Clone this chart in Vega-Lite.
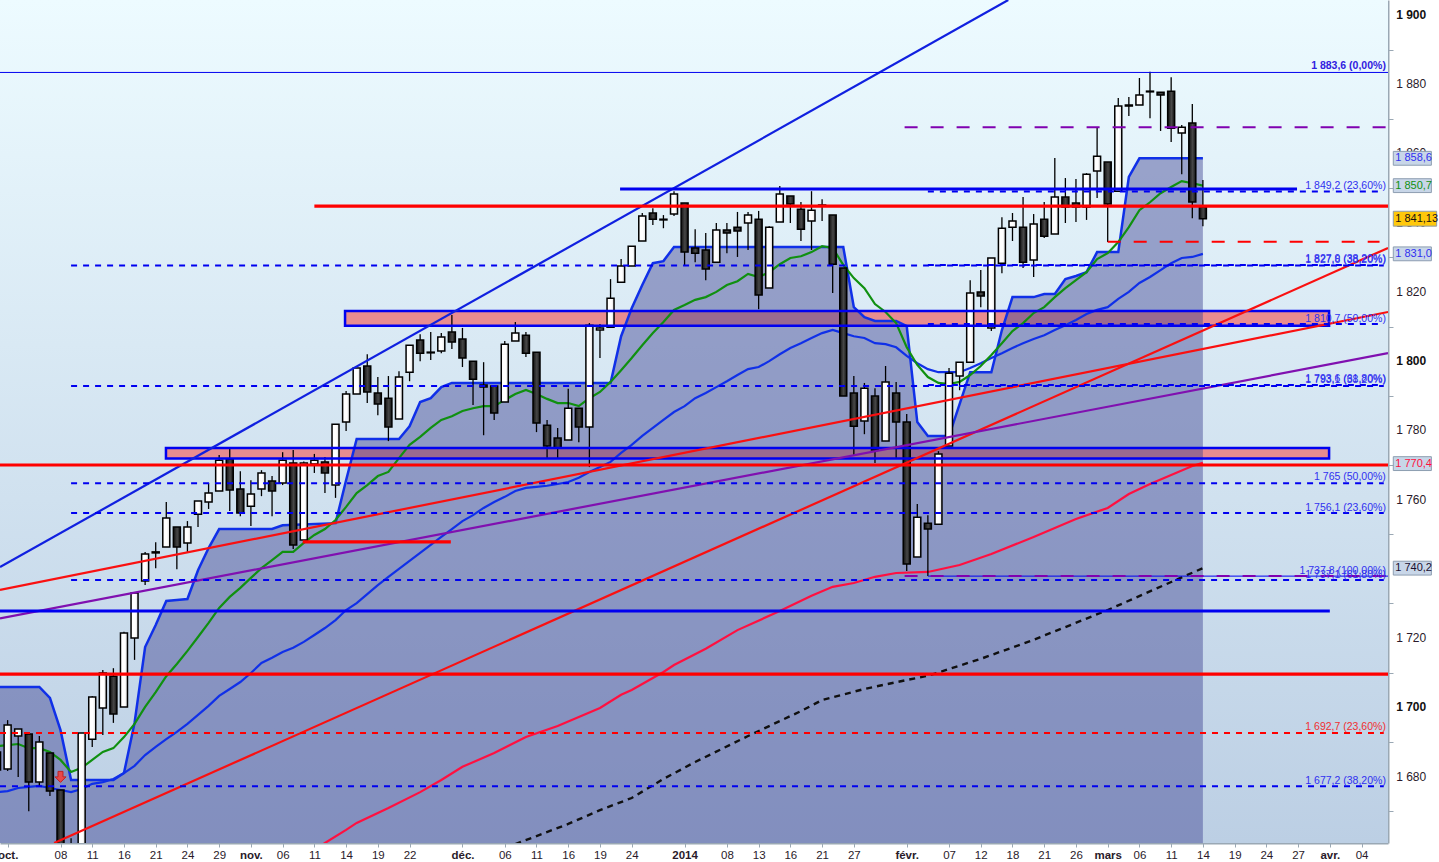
{"$schema":"https://vega.github.io/schema/vega-lite/v6.json","width":1388,"height":843,"autosize":{"type":"none"},"padding":{"left":0,"top":0,"right":51,"bottom":19},"background":"#ffffff","config":{"view":{"stroke":null}},
"datasets":{
"candles":[
{"i":-6,"o":1681.9,"c":1687.1,"p":1681.9,"p2":1687.1},{"i":-5,"o":1682.2,"c":1694.9,"p":1681.6,"p2":1696.3},{"i":-4,"o":1691.7,"c":1693.7,"p":1679.9,"p2":1693.7},{"i":-3,"o":1692.3,"c":1678.4,"p":1670,"p2":1692.3},{"i":-2,"o":1678.4,"c":1690,"p":1677,"p2":1691.7},{"i":-1,"o":1686.8,"c":1675.8,"p":1674.4,"p2":1686.8},{"i":0,"o":1676.1,"c":1650.1,"p":1645,"p2":1676.1},{"i":1,"o":1658.8,"c":1653,"p":1650,"p2":1662.2},{"i":2,"o":1650,"c":1692.6,"p":1650,"p2":1692.6},{"i":3,"o":1690.8,"c":1703,"p":1688.5,"p2":1703.3},{"i":4,"o":1699.8,"c":1709.9,"p":1692,"p2":1710.8},{"i":5,"o":1709,"c":1698.1,"p":1695.5,"p2":1711.3},{"i":6,"o":1700.1,"c":1721.5,"p":1700.1,"p2":1721.8},{"i":7,"o":1720,"c":1733,"p":1713.7,"p2":1733},{"i":8,"o":1736.5,"c":1744.3,"p":1735.3,"p2":1744.9},{"i":9,"o":1744.9,"c":1744.6,"p":1740.2,"p2":1747.7},{"i":10,"o":1746.3,"c":1754.7,"p":1746.3,"p2":1759.3},{"i":11,"o":1752.1,"c":1746.3,"p":1739.9,"p2":1752.1},{"i":12,"o":1747.5,"c":1752.1,"p":1744.9,"p2":1753.8},{"i":13,"o":1755.8,"c":1759.6,"p":1752.1,"p2":1759.6},{"i":14,"o":1759.3,"c":1761.9,"p":1757.3,"p2":1764.8},{"i":15,"o":1762.5,"c":1771.4,"p":1762.5,"p2":1772.9},{"i":16,"o":1771.7,"c":1762.8,"p":1756.7,"p2":1774.9},{"i":17,"o":1763.1,"c":1756.1,"p":1755.2,"p2":1768.2},{"i":18,"o":1758.1,"c":1761.6,"p":1752.4,"p2":1765.6},{"i":19,"o":1763.1,"c":1767.7,"p":1761,"p2":1768.5},{"i":20,"o":1765.4,"c":1762.5,"p":1755.2,"p2":1766.8},{"i":21,"o":1764.8,"c":1771.4,"p":1764.2,"p2":1773.7},{"i":22,"o":1770.6,"c":1746.9,"p":1745.7,"p2":1774.3},{"i":23,"o":1748.3,"c":1770.6,"p":1748.3,"p2":1771},{"i":24,"o":1770.3,"c":1771.4,"p":1767.7,"p2":1773.2},{"i":25,"o":1770.9,"c":1767.7,"p":1761.9,"p2":1772.3},{"i":26,"o":1764.2,"c":1781.8,"p":1760.5,"p2":1781.8},{"i":27,"o":1782.4,"c":1790.5,"p":1779.8,"p2":1791.4},{"i":28,"o":1790.5,"c":1798,"p":1790.5,"p2":1798},{"i":29,"o":1798.6,"c":1791.1,"p":1787.9,"p2":1802},{"i":30,"o":1790.8,"c":1787.6,"p":1784.4,"p2":1795.4},{"i":31,"o":1789.3,"c":1781,"p":1776.9,"p2":1795.7},{"i":32,"o":1783.3,"c":1795.4,"p":1783.3,"p2":1797.1},{"i":33,"o":1796.8,"c":1804.6,"p":1794.2,"p2":1804.6},{"i":34,"o":1806.1,"c":1802.3,"p":1800,"p2":1807.8},{"i":35,"o":1802.6,"c":1802.4,"p":1800.3,"p2":1808.4},{"i":36,"o":1802.9,"c":1807,"p":1802.3,"p2":1808.1},{"i":37,"o":1808.4,"c":1805.5,"p":1803.5,"p2":1813.3},{"i":38,"o":1806.4,"c":1800.9,"p":1798.3,"p2":1809.6},{"i":39,"o":1800,"c":1794.8,"p":1787.3,"p2":1800},{"i":40,"o":1793.1,"c":1792.5,"p":1778.6,"p2":1799.7},{"i":41,"o":1792.8,"c":1785,"p":1783,"p2":1792.8},{"i":42,"o":1788.2,"c":1804.9,"p":1788.2,"p2":1805.8},{"i":43,"o":1805.8,"c":1808.1,"p":1805.8,"p2":1811.3},{"i":44,"o":1807.5,"c":1802.3,"p":1801.2,"p2":1808.4},{"i":45,"o":1802.6,"c":1782.1,"p":1779.5,"p2":1802.6},{"i":46,"o":1781.5,"c":1775.5,"p":1772,"p2":1783},{"i":47,"o":1777.8,"c":1774.9,"p":1772,"p2":1780.7},{"i":48,"o":1777.2,"c":1786.4,"p":1777.2,"p2":1792},{"i":49,"o":1786.4,"c":1781,"p":1776.6,"p2":1786.4},{"i":50,"o":1781,"c":1810.4,"p":1769.4,"p2":1811},{"i":51,"o":1809,"c":1809.6,"p":1800.9,"p2":1810.7},{"i":52,"o":1809.8,"c":1818.2,"p":1809.8,"p2":1823.7},{"i":53,"o":1822.8,"c":1827.5,"p":1822.8,"p2":1829.5},{"i":54,"o":1827.5,"c":1833.2,"p":1827.5,"p2":1833.2},{"i":55,"o":1834.7,"c":1841.9,"p":1834.7,"p2":1842.8},{"i":56,"o":1842.8,"c":1841,"p":1839.3,"p2":1844.2},{"i":57,"o":1841,"c":1840.8,"p":1838.4,"p2":1842.2},{"i":58,"o":1842.5,"c":1848.3,"p":1841.9,"p2":1849.1},{"i":59,"o":1845.7,"c":1831.5,"p":1827.5,"p2":1845.7},{"i":60,"o":1832.7,"c":1831.2,"p":1828.6,"p2":1838.1},{"i":61,"o":1832.1,"c":1826.6,"p":1823.4,"p2":1837},{"i":62,"o":1828.6,"c":1837.9,"p":1828.6,"p2":1839.9},{"i":63,"o":1837.9,"c":1837,"p":1831.2,"p2":1839.9},{"i":64,"o":1838.7,"c":1837.6,"p":1830.1,"p2":1843.1},{"i":65,"o":1839.9,"c":1842.2,"p":1832.1,"p2":1843.1},{"i":66,"o":1841,"c":1819.1,"p":1815,"p2":1843.4},{"i":67,"o":1821.1,"c":1838.7,"p":1821.1,"p2":1839},{"i":68,"o":1840.2,"c":1848.3,"p":1840.2,"p2":1850.6},{"i":69,"o":1847.7,"c":1845.4,"p":1839.9,"p2":1847.7},{"i":70,"o":1843.9,"c":1838.1,"p":1834.7,"p2":1846},{"i":71,"o":1840.5,"c":1843.6,"p":1832.1,"p2":1849.1},{"i":72,"o":1844.8,"c":1845.1,"p":1840.5,"p2":1846.8},{"i":73,"o":1842.2,"c":1828,"p":1819.7,"p2":1842.2},{"i":74,"o":1826.9,"c":1789.9,"p":1789.9,"p2":1826.9},{"i":75,"o":1790.8,"c":1781.2,"p":1772.9,"p2":1795.7},{"i":76,"o":1782.7,"c":1792.2,"p":1778.9,"p2":1793.7},{"i":77,"o":1789.9,"c":1774.3,"p":1770.6,"p2":1792.2},{"i":78,"o":1776.9,"c":1794,"p":1776.9,"p2":1798.6},{"i":79,"o":1790.8,"c":1782.4,"p":1772,"p2":1794},{"i":80,"o":1782.4,"c":1741.4,"p":1739.4,"p2":1784.7},{"i":81,"o":1743.4,"c":1754.9,"p":1743.4,"p2":1758.7},{"i":82,"o":1753.2,"c":1751.5,"p":1737.9,"p2":1755.5},{"i":83,"o":1752.9,"c":1773.2,"p":1752.9,"p2":1774},{"i":84,"o":1775.5,"c":1796.5,"p":1775.5,"p2":1798},{"i":85,"o":1795.7,"c":1799.7,"p":1791.6,"p2":1799.7},{"i":86,"o":1799.7,"c":1819.7,"p":1799.7,"p2":1823.4},{"i":87,"o":1820,"c":1818.8,"p":1815.6,"p2":1826.3},{"i":88,"o":1809.6,"c":1829.8,"p":1808.7,"p2":1829.8},{"i":89,"o":1828.3,"c":1838.4,"p":1825.4,"p2":1841.6},{"i":90,"o":1838.7,"c":1840.5,"p":1834.7,"p2":1842.8},{"i":91,"o":1838.7,"c":1828.6,"p":1826.9,"p2":1847.4},{"i":92,"o":1829.2,"c":1839.6,"p":1824.3,"p2":1842.5},{"i":93,"o":1841,"c":1836.1,"p":1835.6,"p2":1846},{"i":94,"o":1836.7,"c":1847.4,"p":1836.7,"p2":1858.7},{"i":95,"o":1847.4,"c":1844.5,"p":1839.9,"p2":1852.9},{"i":96,"o":1845.7,"c":1844.5,"p":1840.2,"p2":1852.6},{"i":97,"o":1844.5,"c":1854,"p":1840.8,"p2":1854.3},{"i":98,"o":1854.9,"c":1859.2,"p":1847.1,"p2":1867.6},{"i":99,"o":1857.5,"c":1845.4,"p":1834.4,"p2":1857.5},{"i":100,"o":1849.1,"c":1873.7,"p":1849.1,"p2":1876},{"i":101,"o":1874,"c":1873.7,"p":1870.8,"p2":1876.3},{"i":102,"o":1874,"c":1876.9,"p":1874,"p2":1881.8},{"i":103,"o":1878,"c":1877.8,"p":1870.2,"p2":1883.6},{"i":104,"o":1877.7,"c":1876.9,"p":1866.5,"p2":1877.7},{"i":105,"o":1878,"c":1867.3,"p":1863.3,"p2":1882},{"i":106,"o":1865.9,"c":1867.6,"p":1854,"p2":1868.2},{"i":107,"o":1868.8,"c":1846,"p":1841.3,"p2":1874.3},{"i":108,"o":1844.5,"c":1841.13,"p":1839,"p2":1852.3}],
"env":[{"i":-6,"p":1705.9},{"i":-2,"p":1705.9},{"i":-1,"p":1702.7},{"i":0,"p":1693.4},{"i":1,"p":1679},{"i":5,"p":1679},{"i":6,"p":1681},{"i":7,"p":1695.5},{"i":8,"p":1717.4},{"i":9,"p":1723.8},{"i":10,"p":1730.7},{"i":11,"p":1731},{"i":12,"p":1731.3},{"i":13,"p":1739.6},{"i":14,"p":1746},{"i":15,"p":1751.5},{"i":20,"p":1751.5},{"i":21,"p":1752.6},{"i":26,"p":1753.2},{"i":27,"p":1765.6},{"i":28,"p":1777.5},{"i":32,"p":1777.5},{"i":33,"p":1781.2},{"i":34,"p":1788.2},{"i":35,"p":1789.3},{"i":36,"p":1792.5},{"i":37,"p":1793.7},{"i":52,"p":1793.7},{"i":53,"p":1807.2},{"i":54,"p":1815.3},{"i":55,"p":1822},{"i":56,"p":1828.3},{"i":57,"p":1828.9},{"i":58,"p":1833},{"i":74,"p":1833},{"i":75,"p":1815.6},{"i":76,"p":1812.7},{"i":77,"p":1811.6},{"i":79,"p":1811.6},{"i":80,"p":1810.1},{"i":81,"p":1782.4},{"i":82,"p":1778.4},{"i":84,"p":1778.4},{"i":85,"p":1787.6},{"i":86,"p":1796.8},{"i":88,"p":1796.8},{"i":89,"p":1809},{"i":90,"p":1818.5},{"i":92,"p":1818.5},{"i":93,"p":1819.4},{"i":94,"p":1819.4},{"i":95,"p":1823.7},{"i":96,"p":1824.6},{"i":97,"p":1825.7},{"i":98,"p":1831.5},{"i":100,"p":1831.5},{"i":101,"p":1853.2},{"i":102,"p":1858.6},{"i":108,"p":1858.6}],
"green":[{"i":-6,"p":1688.8},{"i":-5,"p":1689.1},{"i":-4,"p":1689.4},{"i":-3,"p":1688.2},{"i":-2,"p":1688.2},{"i":-1,"p":1687.1},{"i":0,"p":1684.8},{"i":1,"p":1681.3},{"i":2,"p":1682.5},{"i":3,"p":1684.8},{"i":4,"p":1687.1},{"i":5,"p":1688.2},{"i":6,"p":1691.4},{"i":7,"p":1695.2},{"i":8,"p":1700.1},{"i":9,"p":1704.4},{"i":10,"p":1709},{"i":11,"p":1712.5},{"i":12,"p":1716.3},{"i":13,"p":1720.3},{"i":14,"p":1724.4},{"i":15,"p":1728.7},{"i":16,"p":1731.9},{"i":17,"p":1734.5},{"i":18,"p":1737.4},{"i":19,"p":1740.2},{"i":20,"p":1742.5},{"i":21,"p":1744.9},{"i":22,"p":1744.9},{"i":23,"p":1747.5},{"i":24,"p":1749.8},{"i":25,"p":1751.5},{"i":26,"p":1754.1},{"i":27,"p":1757.9},{"i":28,"p":1761.9},{"i":29,"p":1764.2},{"i":30,"p":1766.8},{"i":31,"p":1768},{"i":32,"p":1772},{"i":33,"p":1775.8},{"i":34,"p":1778.1},{"i":35,"p":1780.7},{"i":36,"p":1783},{"i":37,"p":1784.1},{"i":38,"p":1785.6},{"i":39,"p":1786.4},{"i":40,"p":1787},{"i":41,"p":1787},{"i":42,"p":1788.8},{"i":43,"p":1790.5},{"i":44,"p":1791.7},{"i":45,"p":1790.5},{"i":46,"p":1789.1},{"i":47,"p":1787.9},{"i":48,"p":1787.9},{"i":49,"p":1787},{"i":50,"p":1789.3},{"i":51,"p":1791.1},{"i":52,"p":1794},{"i":53,"p":1797.4},{"i":54,"p":1800.9},{"i":55,"p":1804.6},{"i":56,"p":1808.1},{"i":57,"p":1811.3},{"i":58,"p":1814.8},{"i":59,"p":1816.2},{"i":60,"p":1817.7},{"i":61,"p":1818.5},{"i":62,"p":1820},{"i":63,"p":1822},{"i":64,"p":1823.1},{"i":65,"p":1825.2},{"i":66,"p":1824.3},{"i":67,"p":1825.7},{"i":68,"p":1828},{"i":69,"p":1829.8},{"i":70,"p":1830.3},{"i":71,"p":1831.5},{"i":72,"p":1833.2},{"i":73,"p":1832.7},{"i":74,"p":1827.8},{"i":75,"p":1824},{"i":76,"p":1821.1},{"i":77,"p":1816.5},{"i":78,"p":1814.2},{"i":79,"p":1811},{"i":80,"p":1804},{"i":81,"p":1798.9},{"i":82,"p":1795.4},{"i":83,"p":1793.7},{"i":84,"p":1793.4},{"i":85,"p":1794},{"i":86,"p":1796},{"i":87,"p":1798.6},{"i":88,"p":1801.8},{"i":89,"p":1805.2},{"i":90,"p":1808.7},{"i":91,"p":1811},{"i":92,"p":1813.9},{"i":93,"p":1815.6},{"i":94,"p":1818.5},{"i":95,"p":1821.1},{"i":96,"p":1823.4},{"i":97,"p":1825.7},{"i":98,"p":1829.5},{"i":99,"p":1831.2},{"i":100,"p":1834.4},{"i":101,"p":1838.7},{"i":102,"p":1843.6},{"i":103,"p":1845.9},{"i":104,"p":1848.5},{"i":105,"p":1850.3},{"i":106,"p":1852},{"i":107,"p":1851.4},{"i":108,"p":1850.7}],
"blue":[{"i":-6,"p":1675.5},{"i":-5,"p":1675.8},{"i":-4,"p":1676.7},{"i":-3,"p":1677},{"i":-2,"p":1677.3},{"i":-1,"p":1676.7},{"i":0,"p":1676.1},{"i":1,"p":1675.5},{"i":2,"p":1676.4},{"i":3,"p":1677.9},{"i":4,"p":1678.4},{"i":5,"p":1679.3},{"i":6,"p":1681},{"i":7,"p":1683.1},{"i":8,"p":1686.2},{"i":9,"p":1688.6},{"i":10,"p":1690.8},{"i":11,"p":1692.9},{"i":12,"p":1695.2},{"i":13,"p":1697.8},{"i":14,"p":1700.4},{"i":15,"p":1703.3},{"i":16,"p":1705.3},{"i":17,"p":1707.3},{"i":18,"p":1709.9},{"i":19,"p":1712.8},{"i":20,"p":1714.3},{"i":21,"p":1716},{"i":22,"p":1717.2},{"i":23,"p":1718.9},{"i":24,"p":1720.9},{"i":25,"p":1722.9},{"i":26,"p":1725.2},{"i":27,"p":1728.1},{"i":28,"p":1730.1},{"i":29,"p":1732.7},{"i":30,"p":1735.3},{"i":31,"p":1737.7},{"i":32,"p":1740},{"i":33,"p":1742.3},{"i":34,"p":1744.6},{"i":35,"p":1746.9},{"i":36,"p":1749.2},{"i":37,"p":1751.5},{"i":38,"p":1753.8},{"i":39,"p":1755.5},{"i":40,"p":1757.6},{"i":41,"p":1759.3},{"i":42,"p":1760.8},{"i":43,"p":1762.5},{"i":44,"p":1763.4},{"i":45,"p":1763.7},{"i":46,"p":1764},{"i":47,"p":1764.5},{"i":48,"p":1765.1},{"i":49,"p":1766.3},{"i":50,"p":1768},{"i":51,"p":1769.4},{"i":52,"p":1770.9},{"i":53,"p":1773.5},{"i":54,"p":1775.8},{"i":55,"p":1778.4},{"i":56,"p":1780.7},{"i":57,"p":1783},{"i":58,"p":1785.3},{"i":59,"p":1787},{"i":60,"p":1789.3},{"i":61,"p":1790.8},{"i":62,"p":1792.5},{"i":63,"p":1794.2},{"i":64,"p":1796},{"i":65,"p":1797.7},{"i":66,"p":1798.3},{"i":67,"p":1800},{"i":68,"p":1802},{"i":69,"p":1803.8},{"i":70,"p":1805.2},{"i":71,"p":1806.7},{"i":72,"p":1808.1},{"i":73,"p":1809},{"i":74,"p":1808.1},{"i":75,"p":1807.2},{"i":76,"p":1806.7},{"i":77,"p":1805.2},{"i":78,"p":1804.9},{"i":79,"p":1804},{"i":80,"p":1801.5},{"i":81,"p":1799.4},{"i":82,"p":1797.7},{"i":83,"p":1796.8},{"i":84,"p":1796.8},{"i":85,"p":1796.8},{"i":86,"p":1798},{"i":87,"p":1799.4},{"i":88,"p":1800.9},{"i":89,"p":1802.3},{"i":90,"p":1803.8},{"i":91,"p":1805.2},{"i":92,"p":1806.4},{"i":93,"p":1807.5},{"i":94,"p":1809},{"i":95,"p":1810.4},{"i":96,"p":1811.9},{"i":97,"p":1813.6},{"i":98,"p":1814.8},{"i":99,"p":1815.6},{"i":100,"p":1818},{"i":101,"p":1820},{"i":102,"p":1822.6},{"i":103,"p":1824.3},{"i":104,"p":1826.3},{"i":105,"p":1828.3},{"i":106,"p":1829.8},{"i":107,"p":1830.1},{"i":108,"p":1831}],
"ma200":[{"i":24,"p":1658.8},{"i":25,"p":1660.8},{"i":27,"p":1664.6},{"i":28,"p":1666.6},{"i":31,"p":1670.9},{"i":34,"p":1675.5},{"i":36,"p":1679},{"i":38,"p":1682.8},{"i":41,"p":1686.8},{"i":44,"p":1691.4},{"i":47,"p":1694.6},{"i":49,"p":1697.2},{"i":51,"p":1699.8},{"i":53,"p":1703.6},{"i":54,"p":1705},{"i":57,"p":1710.2},{"i":58,"p":1712.2},{"i":61,"p":1716.9},{"i":64,"p":1722.3},{"i":68,"p":1727.8},{"i":71,"p":1732.2},{"i":73,"p":1734.8},{"i":75,"p":1735.9},{"i":77,"p":1737.7},{"i":79,"p":1738.8},{"i":82,"p":1739.1},{"i":85,"p":1741.1},{"i":88,"p":1744.3},{"i":92,"p":1749.2},{"i":96,"p":1754.4},{"i":99,"p":1757.6},{"i":101,"p":1761.6},{"i":103,"p":1764.5},{"i":107,"p":1769.7},{"i":108,"p":1770.6}],
"ma300":[{"i":43,"p":1660.5},{"i":45,"p":1662.8},{"i":48,"p":1666.3},{"i":51,"p":1670.3},{"i":54,"p":1673.8},{"i":57,"p":1679.3},{"i":60,"p":1684.2},{"i":65,"p":1691.7},{"i":70,"p":1698.9},{"i":72,"p":1702.1},{"i":76,"p":1705.3},{"i":80,"p":1707.9},{"i":82,"p":1709.1},{"i":87,"p":1714},{"i":92,"p":1719.5},{"i":99,"p":1728.1},{"i":105,"p":1736.2},{"i":108,"p":1740.2}],
"zones":[{"i":26.9,"i2":119.93,"p":1814.5,"p2":1810.2},{"i":9.97,"i2":119.93,"p":1774.9,"p2":1771.9}],
"boxes":[{"i":126,"i2":129.6,"p":1860.6,"p2":1856.6,"t":"1 858,6","k":"a"},{"i":126,"i2":129.6,"p":1852.7,"p2":1848.7,"t":"1 850,7","k":"b"},{"i":126,"i2":130.1,"p":1843.3,"p2":1839,"t":"1 841,13","k":"c"},{"i":126,"i2":129.6,"p":1833,"p2":1829,"t":"1 831,0","k":"a"},{"i":126,"i2":129.6,"p":1772.4,"p2":1768.4,"t":"1 770,4","k":"d"},{"i":126,"i2":129.6,"p":1742.2,"p2":1738.2,"t":"1 740,2","k":"e"}],
"boxtext":[{"i":126,"p":1858.6,"t":"1 858,6","k":"a"},{"i":126,"p":1850.7,"t":"1 850,7","k":"b"},{"i":126,"p":1841.13,"t":"1 841,13","k":"c"},{"i":126,"p":1831,"t":"1 831,0","k":"a"},{"i":126,"p":1770.4,"t":"1 770,4","k":"d"},{"i":126,"p":1740.2,"t":"1 740,2","k":"e"}]
},
"encoding":{
"x":{"field":"i","type":"quantitative","title":null,"scale":{"domain":[-5.72,125.5],"nice":false,"zero":false,"padding":0},"axis":{"orient":"bottom","grid":false,"title":null,"values":[-5,0,3,6,9,12,15,18,21,24,27,30,33,38,42,45,48,51,54,59,63,66,69,72,75,80,84,87,90,93,96,99,102,105,108,111,114,117,120,123],"labelExpr":"['oct.','08','11','16','21','24','29','nov.','06','11','14','19','22','déc.','06','11','16','19','24','2014','08','13','16','21','27','févr.','07','12','18','21','26','mars','06','11','14','19','24','27','avr.','04'][indexof([-5,0,3,6,9,12,15,18,21,24,27,30,33,38,42,45,48,51,54,59,63,66,69,72,75,80,84,87,90,93,96,99,102,105,108,111,114,117,120,123],datum.value)]","labelFontWeight":{"condition":{"test":"indexof([-5,18,38,59,80,99,120],datum.value)>=0","value":"bold"},"value":"normal"},"labelFont":"Liberation Sans","labelFontSize":11.5,"labelColor":"#2a1a2a","labelOverlap":false,"labelBound":false,"labelFlush":false,"labelPadding":2,"tickSize":4,"tickColor":"#9aa8b4","domainColor":"#9aa8b4","domainWidth":2,"zindex":0}},
"y":{"field":"p","type":"quantitative","title":null,"scale":{"domain":[1660.8,1904.33],"nice":false,"zero":false,"padding":0},"axis":{"orient":"right","grid":false,"title":null,"values":[1670,1680,1690,1700,1710,1720,1730,1740,1750,1760,1770,1780,1790,1800,1810,1820,1830,1840,1850,1860,1870,1880,1890,1900],"labels":false,"tickSize":5,"tickColor":"#9aa8b4","domainColor":"#9aa8b4","domainWidth":2,"zindex":0}}
},
"layer":[
{"data":{"values":[{"i":-5.72,"i2":125.5,"p":1904.33,"p2":1660.8}]},"mark":{"type":"rect","fill":{"x1":0,"y1":0,"x2":0,"y2":1,"gradient":"linear","stops":[{"offset":0,"color":"#edfbff"},{"offset":1,"color":"#bccfe4"}]}},"encoding":{"x2":{"field":"i2"},"y2":{"field":"p2"}}},
{"data":{"name":"zones"},"mark":{"type":"rect","fill":"#e88c90"},"encoding":{"x2":{"field":"i2"},"y2":{"field":"p2"}}},
{"data":{"name":"env"},"mark":{"type":"area","fill":"#3c4191","opacity":0.45,"clip":true},"encoding":{"y2":{"datum":1660.8}}},
{"data":{"name":"env"},"mark":{"type":"line","stroke":"#1030e8","strokeWidth":2.5,"clip":true}},
{"data":{"name":"blue"},"mark":{"type":"line","stroke":"#1030e8","strokeWidth":2.2,"clip":true}},
{"data":{"name":"green"},"mark":{"type":"line","stroke":"#109010","strokeWidth":2.2,"clip":true}},
{"data":{"name":"ma200"},"mark":{"type":"line","stroke":"#ff1040","strokeWidth":2.2,"clip":true}},
{"data":{"name":"ma300"},"mark":{"type":"line","stroke":"#101010","strokeWidth":2.4,"strokeDash":[6,5],"clip":true}},
{"data":{"name":"candles"},"mark":{"type":"rule","stroke":"#000000","strokeWidth":1.3,"clip":true},"encoding":{"y2":{"field":"p2"}}},
{"data":{"name":"candles"},"transform":[{"filter":"datum.c>=datum.o"}],"mark":{"type":"bar","size":7,"clip":true,"stroke":"#000000","strokeWidth":1.5,"fill":{"x1":0,"y1":0,"x2":1,"y2":0,"gradient":"linear","stops":[{"offset":0,"color":"#ffffff"},{"offset":0.6,"color":"#ffffff"},{"offset":1,"color":"#dcdcdc"}]}},"encoding":{"y":{"field":"o","type":"quantitative","title":null,"scale":{"domain":[1660.8,1904.33],"nice":false,"zero":false,"padding":0},"axis":{"orient":"right","title":null,"labels":false}},"y2":{"field":"c"}}},
{"data":{"name":"candles"},"transform":[{"filter":"datum.c<datum.o"}],"mark":{"type":"bar","size":7,"clip":true,"stroke":"#000000","strokeWidth":1.5,"fill":{"x1":0,"y1":0,"x2":1,"y2":0,"gradient":"linear","stops":[{"offset":0,"color":"#101010"},{"offset":0.55,"color":"#484848"},{"offset":1,"color":"#101010"}]}},"encoding":{"y":{"field":"o","type":"quantitative","title":null,"scale":{"domain":[1660.8,1904.33],"nice":false,"zero":false,"padding":0},"axis":{"orient":"right","title":null,"labels":false}},"y2":{"field":"c"}}},
{"data":{"name":"zones"},"mark":{"type":"rect","fill":null,"stroke":"#0000f0","strokeWidth":2.5},"encoding":{"x2":{"field":"i2"},"y2":{"field":"p2"}}},
{"data":{"values":[{"i":-5.72,"p":1740.5},{"i":89.6,"p":1904.33}]},"mark":{"type":"line","stroke":"#1020e0","strokeWidth":2.2,"clip":true}},
{"data":{"values":[{"i":-0.6,"p":1660.8},{"i":125.5,"p":1832.7}]},"mark":{"type":"line","stroke":"#fa1010","strokeWidth":2.2,"clip":true}},
{"data":{"values":[{"i":-5.72,"p":1733.9},{"i":125.5,"p":1814.2}]},"mark":{"type":"line","stroke":"#fa1010","strokeWidth":2.2,"clip":true}},
{"data":{"values":[{"i":-5.72,"p":1725.7},{"i":125.5,"p":1802.3}]},"mark":{"type":"line","stroke":"#8010b0","strokeWidth":2.2,"clip":true}},
{"data":{"values":[{"i":-5.72,"i2":125.5,"p":1883.4},{"i":82,"i2":125.5,"p":1737.9}]},"mark":{"type":"rule","stroke":"#0000f0","strokeWidth":1},"encoding":{"x2":{"field":"i2"}}},
{"data":{"values":[{"i":79.8,"i2":125.5,"p":1867.6},{"i":79.8,"i2":125.5,"p":1737.9}]},"mark":{"type":"rule","stroke":"#8000b0","strokeWidth":2,"strokeDash":[13,13]},"encoding":{"x2":{"field":"i2"}}},
{"data":{"values":[{"i":99,"i2":124.7,"p":1834.5}]},"mark":{"type":"rule","stroke":"#ff0000","strokeWidth":2,"strokeDash":[13,13]},"encoding":{"x2":{"field":"i2"}}},
{"data":{"values":[{"i":1,"i2":125.1,"p":1827.6},{"i":1,"i2":125.1,"p":1792.8},{"i":1,"i2":125.1,"p":1764.7},{"i":1,"i2":125.1,"p":1756.1},{"i":1,"i2":125.1,"p":1736.8},{"i":82,"i2":125.1,"p":1849},{"i":82,"i2":125.1,"p":1827.8},{"i":82,"i2":125.1,"p":1810.7},{"i":82,"i2":125.1,"p":1793.1},{"i":-5.72,"i2":125.1,"p":1677.2}]},"mark":{"type":"rule","stroke":"#0000f0","strokeWidth":2,"strokeDash":[6,6]},"encoding":{"x2":{"field":"i2"}}},
{"data":{"values":[{"i":-5.72,"i2":125.1,"p":1692.6}]},"mark":{"type":"rule","stroke":"#ff0000","strokeWidth":2,"strokeDash":[6,6]},"encoding":{"x2":{"field":"i2"}}},
{"data":{"values":[{"i":-5.72,"i2":125.5,"p":1770},{"i":-5.72,"i2":125.5,"p":1709.6},{"i":24,"i2":125.5,"p":1844.8},{"i":22.9,"i2":36.9,"p":1747.8}]},"mark":{"type":"rule","stroke":"#ff0000","strokeWidth":3.2},"encoding":{"x2":{"field":"i2"}}},
{"data":{"values":[{"i":52.9,"i2":116.9,"p":1849.7},{"i":-5.72,"i2":120,"p":1727.8}]},"mark":{"type":"rule","stroke":"#0000f0","strokeWidth":3},"encoding":{"x2":{"field":"i2"}}},
{"data":{"values":[{"i":0,"p":1679.9}]},"mark":{"type":"point","shape":"M-0.45,-1 L0.45,-1 L0.45,0 L1,0 L0,1 L-1,0 L-0.45,0 Z","size":121,"filled":true,"fill":"#e84848","stroke":"#c02020","strokeWidth":1,"opacity":1}},
{"data":{"values":[{"i":125.3,"p":1885.3,"t":"1 883,6 (0,00%)"}]},"mark":{"type":"text","align":"right","baseline":"middle","font":"Liberation Sans","fontSize":10.5,"fontWeight":"bold","fill":"#3020e0"},"encoding":{"text":{"field":"t"}}},
{"data":{"values":[{"i":125.3,"p":1850.6,"t":"1 849,2 (23,60%)"},{"i":125.3,"p":1829.2,"t":"1 827,6 (38,20%)"},{"i":125.3,"p":1829.4,"t":"1 827,9 (38,20%)"},{"i":125.3,"p":1812.2,"t":"1 810,7 (50,00%)"},{"i":125.3,"p":1794.9,"t":"1 793,6 (61,80%)"},{"i":125.3,"p":1794.6,"t":"1 793,1 (38,20%)"},{"i":125.3,"p":1766.6,"t":"1 765 (50,00%)"},{"i":125.3,"p":1757.6,"t":"1 756,1 (23,60%)"},{"i":125.3,"p":1739.4,"t":"1 737,8 (100,00%)"},{"i":125.3,"p":1738.2,"t":"1 737,1 (61,80%)"},{"i":125.3,"p":1678.7,"t":"1 677,2 (38,20%)"}]},"mark":{"type":"text","align":"right","baseline":"middle","font":"Liberation Sans","fontSize":10.5,"fill":"#3030f0"},"encoding":{"text":{"field":"t"}}},
{"data":{"values":[{"i":125.3,"p":1694.3,"t":"1 692,7 (23,60%)"}]},"mark":{"type":"text","align":"right","baseline":"middle","font":"Liberation Sans","fontSize":10.5,"fill":"#f03030"},"encoding":{"text":{"field":"t"}}},
{"data":{"values":[{"i":126.27,"p":1880,"t":"1 880"},{"i":126.27,"p":1860,"t":"1 860"},{"i":126.27,"p":1840,"t":"1 840"},{"i":126.27,"p":1820,"t":"1 820"},{"i":126.27,"p":1780,"t":"1 780"},{"i":126.27,"p":1760,"t":"1 760"},{"i":126.27,"p":1740,"t":"1 740"},{"i":126.27,"p":1720,"t":"1 720"},{"i":126.27,"p":1680,"t":"1 680"}]},"mark":{"type":"text","align":"left","baseline":"middle","font":"Liberation Sans","fontSize":12,"fill":"#2a1a2a"},"encoding":{"text":{"field":"t"}}},
{"data":{"values":[{"i":126.27,"p":1900,"t":"1 900"},{"i":126.27,"p":1800,"t":"1 800"},{"i":126.27,"p":1700,"t":"1 700"}]},"mark":{"type":"text","align":"left","baseline":"middle","font":"Liberation Sans","fontSize":12,"fontWeight":"bold","fill":"#111111"},"encoding":{"text":{"field":"t"}}},
{"data":{"name":"boxes"},"mark":{"type":"rect","stroke":"#8d9db0","strokeWidth":1},"encoding":{"x2":{"field":"i2"},"y2":{"field":"p2"},"fill":{"field":"k","type":"nominal","legend":null,"scale":{"domain":["a","b","c","d","e"],"range":["#c8d6e8","#c8d6e8","#ffc80a","#c8d6e8","#c8d6e8"]}}}},
{"data":{"name":"boxtext"},"mark":{"type":"text","align":"left","baseline":"middle","font":"Liberation Sans","fontSize":11,"dx":2},"encoding":{"text":{"field":"t"},"color":{"field":"k","type":"nominal","legend":null,"scale":{"domain":["a","b","c","d","e"],"range":["#3030f0","#109010","#1a1010","#ff1040","#1a1030"]}}}}
]}
